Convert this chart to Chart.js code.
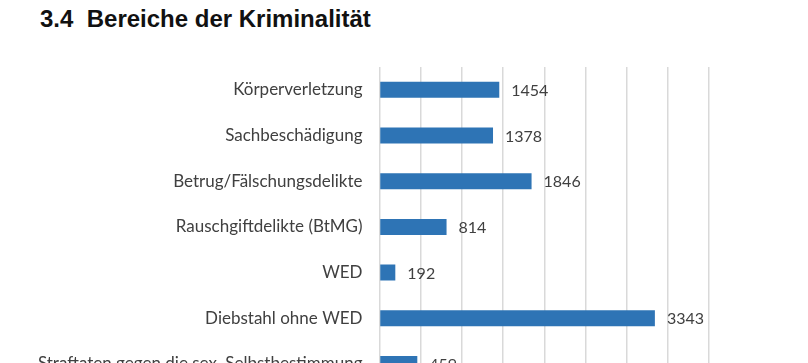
<!DOCTYPE html>
<html>
<head>
<meta charset="utf-8">
<script src="https://cdn.jsdelivr.net/npm/chart.js@4.4.0/dist/chart.umd.min.js"></script>
<style>
  html, body { margin: 0; padding: 0; width: 808px; height: 363px; overflow: hidden; background: #fff; }
  h1 {
    position: absolute; left: 40px; top: 5px; margin: 0;
    font: bold 24px "Liberation Sans", Arial, sans-serif; color: #111;
  }
  #wrap { position: absolute; left: 0; top: 0; width: 808px; height: 414px; }
</style>
</head>
<body>
<h1>3.4&nbsp;&nbsp;Bereiche der Kriminalität</h1>
<div id="wrap"><canvas id="crimeChart"></canvas></div>
<script>
// Fälle je Deliktsbereich (unterer Teil der Grafik ist abgeschnitten)
const categories = [
  'Körperverletzung',
  'Sachbeschädigung',
  'Betrug/Fälschungsdelikte',
  'Rauschgiftdelikte (BtMG)',
  'WED',
  'Diebstahl ohne WED',
  'Straftaten gegen die sex. Selbstbestimmung'
];
const cases = [1454, 1378, 1846, 814, 192, 3343, 459];
const axisMax = 4000;
const axisStep = 500;

const labelFont = '"Lato", "Open Sans", sans-serif';
const textColor = '#404040';

// Werte rechts neben die Balken schreiben
const valueLabels = {
  id: 'valueLabels',
  afterDatasetsDraw(chart) {
    const ctx = chart.ctx;
    const meta = chart.getDatasetMeta(0);
    ctx.save();
    ctx.font = '16px ' + labelFont;
    ctx.fillStyle = textColor;
    ctx.textAlign = 'left';
    ctx.textBaseline = 'middle';
    meta.data.forEach((bar, i) => {
      ctx.fillText(String(cases[i]), bar.x + 12, bar.y + 1);
    });
    ctx.restore();
  }
};

const ctx = document.getElementById('crimeChart').getContext('2d');
new Chart(ctx, {
  type: 'bar',
  data: {
    labels: categories,
    datasets: [{
      data: cases,
      backgroundColor: '#2E74B5',
      categoryPercentage: 1,
      barPercentage: 0.35
    }]
  },
  options: {
    indexAxis: 'y',
    responsive: true,
    maintainAspectRatio: false,
    animation: false,
    layout: { padding: { top: 67, right: 99, bottom: 0, left: 0 } },
    plugins: { legend: { display: false }, tooltip: { enabled: false } },
    scales: {
      x: {
        min: 0,
        max: axisMax,
        ticks: { display: false, stepSize: axisStep },
        grid: { color: '#d9d9d9', lineWidth: 1.5, drawTicks: false },
        border: { display: false }
      },
      y: {
        afterFit(scale) { scale.width = 379.5; },
        ticks: {
          padding: 17,
          color: textColor,
          font: { family: labelFont, size: 17 }
        },
        grid: { display: false, drawTicks: false },
        border: { display: false }
      }
    }
  },
  plugins: [valueLabels]
});
</script>
</body>
</html>
